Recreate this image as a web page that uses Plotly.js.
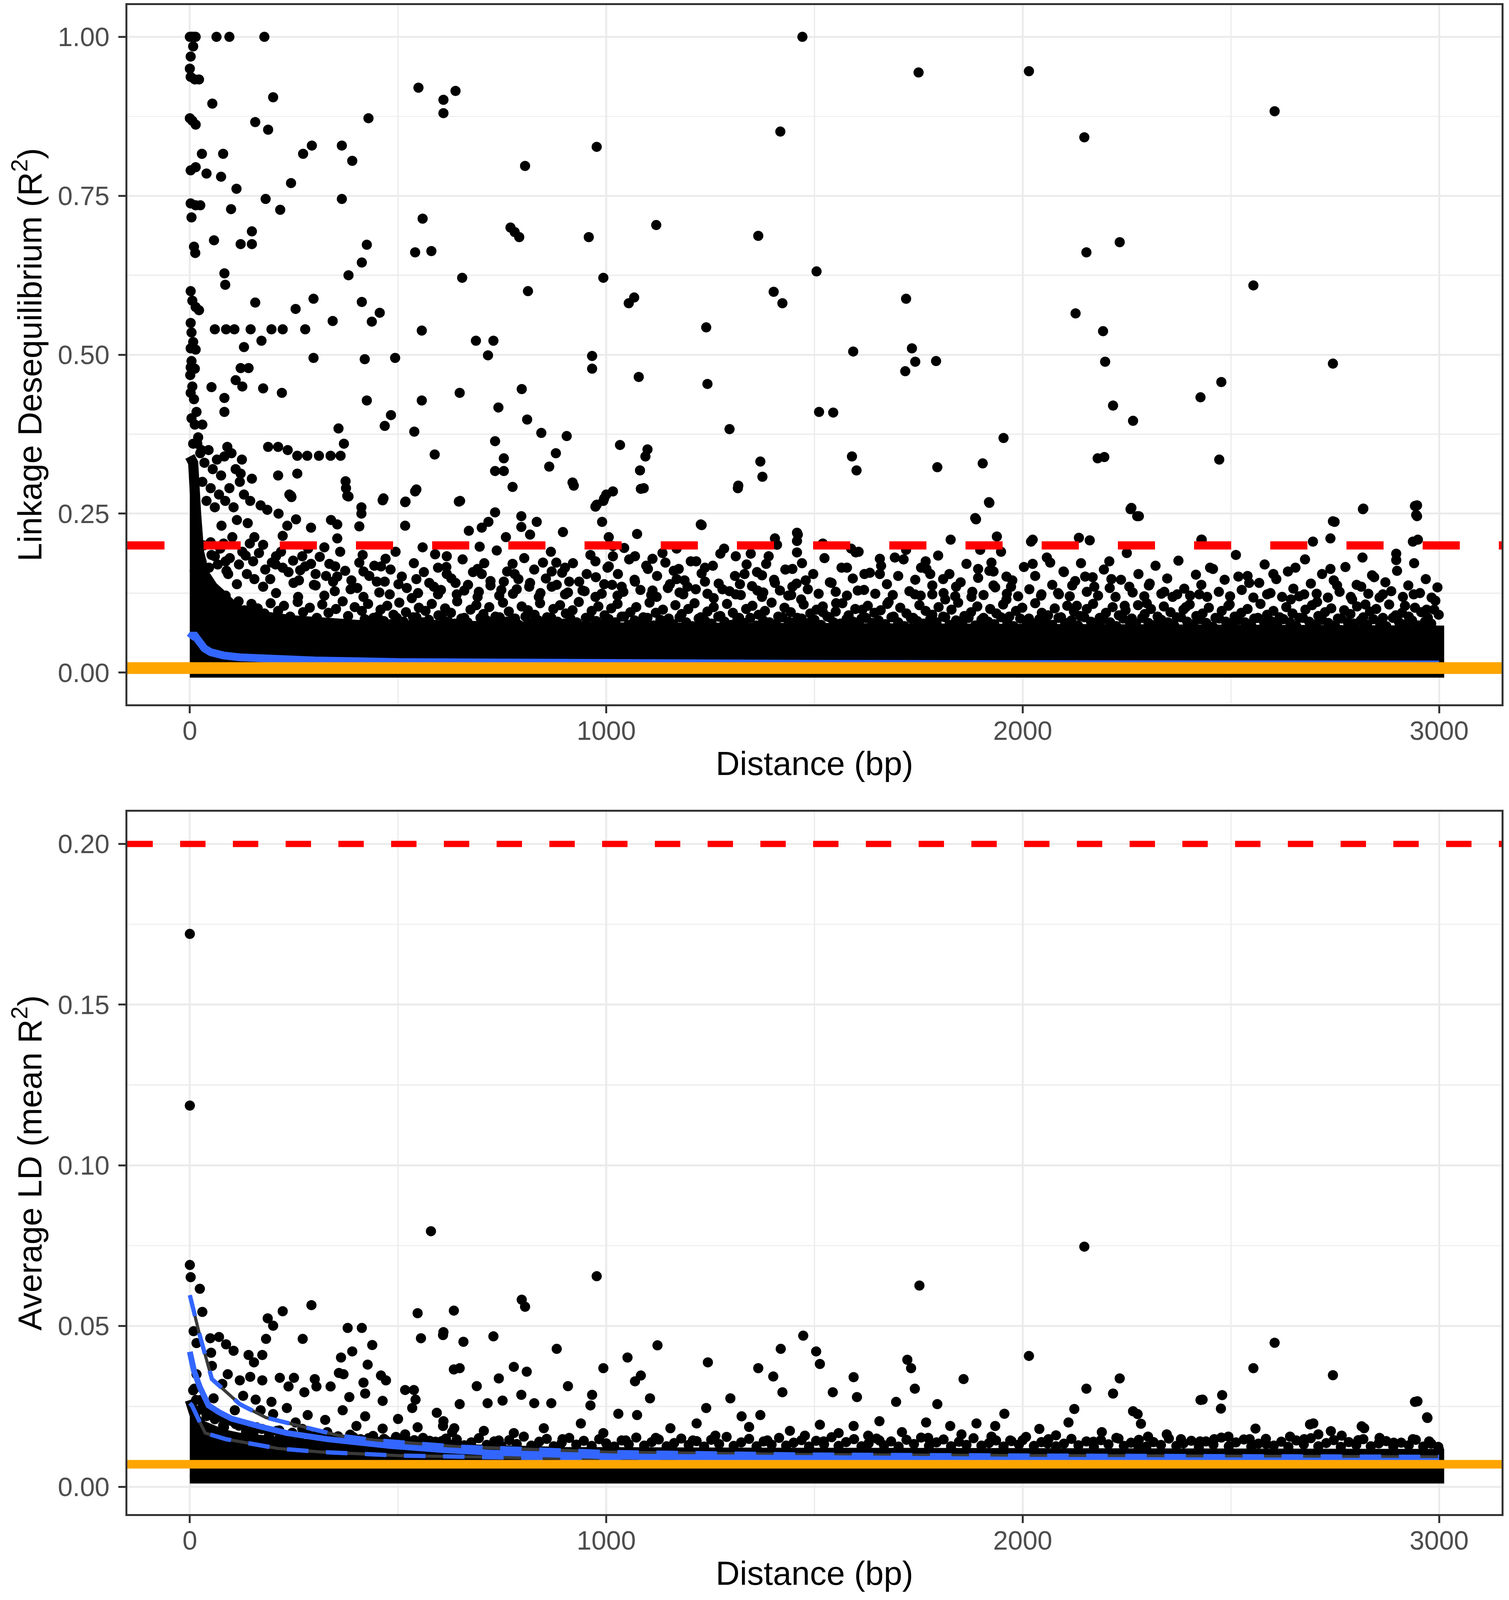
<!DOCTYPE html>
<html>
<head>
<meta charset="utf-8">
<script src="https://cdn.plot.ly/plotly-3.0.1.min.js"></script>
<style>html,body{margin:0;padding:0;background:#fff;overflow:hidden;}#chart{width:3862px;height:4096px;}</style>
</head>
<body>
<div id="chart"></div>
<script>
// ---------------- DATA ----------------
const xTickVals = [0, 1000, 2000, 3000];
const topYTicks = [0, 0.25, 0.5, 0.75, 1.0];
const botYTicks = [0, 0.05, 0.1, 0.15, 0.2];
const ldThreshold = 0.2;      // red dashed line
const ldBaseline = 0.007;     // orange line

// Top panel: saturated (solid black) part of the point cloud, upper edge
const topCoreX   = [0, 8, 15, 22, 35, 55, 80, 110, 160, 250, 400, 700, 1000, 1500, 2000, 2500, 3000];
const topCoreTop = [0.34, 0.33, 0.25, 0.19, 0.155, 0.135, 0.12, 0.1, 0.09, 0.082, 0.075, 0.072, 0.071, 0.07, 0.069, 0.068, 0.066];
const topCoreBaseX = [3000, 0];
const topCoreBaseY = [0, 0];

// Top panel: individual points above the saturated band
const topOutliers = [
 [0,1.0],[3,1.0],[6,1.0],[10,1.0],[14,1.0],[64,1.0],[95,1.0],[179,1.0],[1471,1.0],
 [8,0.985],[2,0.969],[0,0.95],[2,0.937],[12,0.933],[22,0.933],[54,0.895],[200,0.905],
 [0,0.872],[6,0.868],[14,0.862],[157,0.866],[188,0.854],[429,0.872],[549,0.92],[609,0.901],[609,0.88],[638,0.915],
 [272,0.816],[293,0.829],[365,0.829],[390,0.805],[29,0.816],[80,0.816],
 [2,0.79],[14,0.795],[40,0.785],[75,0.78],[112,0.761],[243,0.77],[182,0.745],[217,0.728],[365,0.745],[99,0.729],
 [2,0.738],[14,0.735],[25,0.735],[4,0.716],[58,0.68],[122,0.674],[149,0.674],[149,0.694],[10,0.67],[13,0.66],
 [425,0.673],[413,0.645],[559,0.714],[541,0.661],[580,0.663],[654,0.621],[381,0.625],[83,0.628],[85,0.61],
 [2,0.60],[6,0.585],[14,0.575],[22,0.57],[157,0.582],[297,0.588],[254,0.572],[413,0.583],[456,0.566],[437,0.552],[343,0.553],[557,0.538],
 [60,0.54],[87,0.54],[107,0.54],[146,0.54],[196,0.54],[223,0.54],[277,0.54],[172,0.522],[130,0.512],
 [2,0.55],[4,0.535],[8,0.52],[2,0.51],[14,0.508],[297,0.495],[420,0.493],[493,0.495],[687,0.522],[729,0.522],[716,0.499],
 [4,0.49],[2,0.48],[12,0.478],[1,0.468],[141,0.479],[122,0.479],[110,0.46],[126,0.45],[52,0.449],[176,0.447],[221,0.44],
 [425,0.428],[557,0.428],[648,0.44],[741,0.417],[483,0.405],[468,0.388],
 [83,0.432],[83,0.41],[6,0.45],[2,0.44],[10,0.43],[16,0.41],[4,0.40],[12,0.39],[30,0.39],[20,0.37],[8,0.36],[28,0.35],
 [357,0.384],[539,0.379],[370,0.36],[588,0.343],[733,0.364],[754,0.337],[733,0.317],[754,0.317],
 [188,0.355],[212,0.355],[235,0.35],[258,0.341],[282,0.341],[310,0.341],[338,0.341],[362,0.341],[83,0.34],[90,0.355],
 [258,0.313],[212,0.31],[122,0.313],[149,0.305],[374,0.301],[378,0.278],[463,0.271],[518,0.269],[646,0.269],[243,0.278],[541,0.285],
 [18,0.36],[25,0.345],[35,0.33],[45,0.35],[55,0.32],[65,0.335],[75,0.31],[100,0.345],[110,0.32],[125,0.335],
 [30,0.3],[50,0.29],[70,0.28],[95,0.29],[120,0.3],[40,0.27],[60,0.26],[85,0.27],[105,0.26],[130,0.28],[145,0.27],
 [770,0.70],[780,0.693],[791,0.685],[805,0.797],[812,0.60],[797,0.446],[810,0.398],[844,0.377],[879,0.345],[905,0.372],
 [863,0.324],[919,0.299],[958,0.685],[966,0.498],[966,0.478],[977,0.827],[993,0.621],[977,0.264],[993,0.27],[1000,0.28],
 [1033,0.358],[1054,0.581],[1067,0.59],[1078,0.465],[1099,0.351],[1094,0.34],[1081,0.318],[1083,0.289],[1120,0.704],
 [1240,0.543],[1243,0.454],[1296,0.383],[1317,0.294],[1365,0.687],[1370,0.332],[1375,0.308],[1402,0.599],[1423,0.581],
 [1418,0.851],[1505,0.631],[1511,0.41],[1545,0.409],[1593,0.505],[1590,0.34],[1601,0.318],[1750,0.944],[1720,0.588],
 [1734,0.51],[1742,0.489],[1718,0.474],[1792,0.49],[1795,0.323],[1904,0.329],[1920,0.267],[1954,0.369],[2015,0.946],
 [2148,0.842],[2127,0.565],[2153,0.661],[2193,0.537],[2198,0.489],[2217,0.42],[2233,0.677],[2180,0.337],[2196,0.339],
 [2265,0.396],[2259,0.257],[2275,0.246],[2427,0.433],[2477,0.457],[2472,0.335],[2554,0.609],[2605,0.883],[2745,0.486],
 [2942,0.262],[2945,0.248]
];

// Top panel: points between ~0.11 and ~0.3 (moderately dense zone)
const topMid = [
 [239,0.28],[244,0.276],[375,0.29],[381,0.277],[465,0.274],[544,0.288],[517,0.268],[649,0.27],[775,0.292],[922,0.294],
 [1016,0.285],[995,0.274],[974,0.261],[1090,0.29],[1316,0.29],[412,0.26],[412,0.25],[407,0.23],[170,0.263],[186,0.256],
 [213,0.25],[113,0.24],[139,0.235],[76,0.231],[234,0.231],[255,0.241],[291,0.228],[339,0.24],[354,0.233],[517,0.231],
 [733,0.252],[717,0.237],[701,0.228],[670,0.223],[796,0.246],[833,0.237],[796,0.229],[896,0.221],[990,0.237],[1227,0.233],
 [1074,0.218],[1458,0.22],[1405,0.211],[1006,0.213],[817,0.217],[759,0.213],[354,0.211],[155,0.213],[223,0.215],[81,0.203],
 [102,0.213],[50,0.205],[144,0.203],[176,0.201],[323,0.197],[559,0.197],[696,0.198],[1016,0.199],[1043,0.196],[1169,0.195],
 [1410,0.201],[1458,0.207],[1229,0.232],[1460,0.217],
 [60,0.183],[86,0.175],[134,0.184],[207,0.183],[197,0.173],[223,0.165],[270,0.183],[291,0.171],[265,0.161],[302,0.155],
 [349,0.167],[407,0.173],[470,0.179],[459,0.167],[417,0.159],[354,0.151],[617,0.183],[596,0.165],[617,0.155],[691,0.163],
 [701,0.155],[775,0.171],[780,0.155],[848,0.173],[880,0.173],[901,0.165],[869,0.159],[974,0.175],[1006,0.167],[953,0.155],
 [1016,0.183],[1069,0.183],[1111,0.179],[1142,0.173],[1100,0.163],[1174,0.163],[1216,0.175],[1237,0.165],[1274,0.187],
 [1311,0.183],[1347,0.187],[1384,0.171],[1447,0.163],[1458,0.189],[1374,0.153],[1332,0.155],[1169,0.147],
 [18,0.147],[92,0.155],[155,0.147],[113,0.139],[176,0.135],[249,0.141],[302,0.137],[344,0.143],[386,0.131],[449,0.143],
 [501,0.139],[544,0.147],[586,0.135],[638,0.141],[659,0.129],[722,0.137],[754,0.143],[785,0.131],[817,0.141],[869,0.135],
 [911,0.143],[943,0.129],[995,0.139],[1037,0.135],[1069,0.143],[1111,0.129],[1153,0.139],[1195,0.135],[1237,0.143],
 [1279,0.131],[1321,0.139],[1363,0.129],[1405,0.141],[1447,0.135],[1479,0.145],[207,0.125],[260,0.119],[323,0.121],
 [417,0.119],[480,0.123],[533,0.117],[596,0.123],[691,0.119],[743,0.121],[838,0.119],[901,0.123],[974,0.119],[1027,0.121],
 [1121,0.119],[1185,0.123],[1258,0.117],[1311,0.123],[1374,0.119],[1437,0.121],[1468,0.115],
 [1919,0.268],[1886,0.243],[1827,0.209],[1938,0.214],[1898,0.193],[2024,0.209],[2135,0.212],[2161,0.208],[2261,0.259],
 [2279,0.246],[2429,0.209],[2697,0.206],[2739,0.211],[2749,0.237],[2818,0.258],[2947,0.263],[2947,0.246],[2949,0.209],
 [1520,0.203],[1588,0.195],[1599,0.189],[1720,0.193],[1578,0.165],[1541,0.141],[1620,0.155],[1657,0.179],[1657,0.155],
 [1693,0.181],[1767,0.175],[1756,0.165],[1778,0.155],[1809,0.147],[1925,0.173],[1893,0.163],[1930,0.159],[1961,0.151],
 [1840,0.135],[1930,0.137],[1972,0.135],[2024,0.171],[2066,0.173],[2098,0.159],[2045,0.123],[2119,0.137],[2150,0.151],
 [2172,0.135],[2208,0.175],[2213,0.147],[2256,0.135],[2303,0.137],[2340,0.127],[2371,0.123],[2424,0.123],[2450,0.165],
 [2518,0.151],[2544,0.141],[2602,0.155],[2587,0.123],[2655,0.165],[2676,0.123],[2739,0.163],[2755,0.137],[2813,0.135],
 [2839,0.153],[2897,0.177],[2865,0.123],[2939,0.123],[2991,0.113],[2791,0.115],[1604,0.129],[1741,0.123],[1783,0.123],
 [1678,0.111],[1814,0.115],[1877,0.119],[1961,0.115],[2087,0.123],[2130,0.105],[2245,0.105],[2298,0.109],[2392,0.103],
 [2497,0.107],[2644,0.115],[2707,0.111],[2823,0.107],[2918,0.105],[2970,0.099],[1552,0.109],[1615,0.099],[1520,0.095],
 [1888,0.241],[2020,0.206],[2430,0.209],[2745,0.238],[2817,0.257],[2937,0.206],[2897,0.187]
];

// Top panel: further points in the 0.12 - 0.20 zone
const topMid2 = [
 [15,0.19],[28,0.175],[33,0.2],[46,0.165],[52,0.185],[67,0.17],[73,0.195],[88,0.16],[96,0.18],[118,0.17],[126,0.19],[137,0.155],
 [152,0.175],[166,0.188],[181,0.162],[193,0.147],[206,0.17],[219,0.19],[237,0.158],[248,0.176],[262,0.145],[277,0.167],[284,0.195],
 [298,0.138],[312,0.182],[327,0.152],[335,0.171],[348,0.128],[361,0.19],[373,0.16],[388,0.145],[402,0.133],[415,0.185],[431,0.152],
 [443,0.168],[455,0.126],[468,0.143],[482,0.162],[494,0.19],[509,0.151],[521,0.133],[538,0.172],[548,0.125],[562,0.158],[575,0.141],
 [589,0.186],[603,0.13],[616,0.166],[628,0.148],[641,0.123],[655,0.178],[668,0.138],[680,0.158],[694,0.127],[707,0.172],[722,0.144],
 [737,0.192],[748,0.13],[762,0.159],[776,0.124],[789,0.147],[803,0.18],[815,0.135],[827,0.162],[842,0.125],[855,0.148],[867,0.19],
 [881,0.138],[894,0.157],[908,0.126],[920,0.172],[935,0.143],[948,0.128],[962,0.185],[975,0.15],[989,0.124],[1003,0.165],[1014,0.138],
 [1028,0.155],[1041,0.127],[1055,0.178],[1068,0.146],[1082,0.13],[1096,0.168],[1108,0.122],[1122,0.152],[1135,0.188],[1148,0.133],
 [1162,0.16],[1176,0.126],[1188,0.145],[1203,0.175],[1215,0.131],[1229,0.156],[1243,0.124],[1256,0.168],[1270,0.14],[1283,0.195],
 [1296,0.128],[1309,0.152],[1323,0.122],[1337,0.17],[1350,0.136],[1362,0.158],[1377,0.126],[1390,0.183],[1403,0.146],[1417,0.129],
 [1430,0.162],[1444,0.122],[1457,0.14],[1470,0.172],[1484,0.131],[1497,0.155],[1510,0.124],[1524,0.18],[1537,0.142],[1551,0.127],
 [1565,0.165],[1578,0.121],[1592,0.148],[1606,0.19],[1619,0.13],[1633,0.157],[1646,0.124],[1660,0.168],[1674,0.139],[1688,0.122],
 [1701,0.152],[1714,0.178],[1728,0.128],[1742,0.146],[1755,0.121],[1769,0.163],[1783,0.137],[1797,0.184],[1810,0.125],[1824,0.155],
 [1838,0.12],[1851,0.142],[1865,0.171],[1879,0.127],[1893,0.149],[1906,0.122],[1920,0.16],[1934,0.134],[1948,0.19],[1962,0.124],
 [1975,0.145],[1989,0.12],[2003,0.166],[2016,0.131],[2030,0.152],[2044,0.121],[2058,0.181],[2071,0.138],[2085,0.125],[2099,0.158],
 [2113,0.12],[2126,0.144],[2140,0.172],[2154,0.127],[2168,0.15],[2181,0.121],[2195,0.162],[2209,0.133],[2223,0.119],[2236,0.146],
 [2250,0.188],[2264,0.126],[2278,0.155],[2292,0.12],[2305,0.14],[2319,0.168],[2333,0.124],[2347,0.148],[2360,0.119],[2374,0.176],
 [2388,0.132],[2402,0.121],[2416,0.154],[2429,0.138],[2443,0.119],[2457,0.163],[2471,0.127],[2485,0.146],[2498,0.12],[2512,0.185],
 [2526,0.13],[2540,0.152],[2554,0.118],[2568,0.141],[2581,0.17],[2595,0.125],[2609,0.147],[2623,0.119],[2637,0.159],[2650,0.132],
 [2664,0.12],[2678,0.178],[2692,0.14],[2706,0.124],[2719,0.155],[2733,0.118],[2747,0.145],[2761,0.127],[2775,0.166],[2788,0.119],
 [2802,0.138],[2816,0.181],[2830,0.124],[2844,0.15],[2857,0.118],[2871,0.142],[2885,0.128],[2899,0.16],[2913,0.119],[2926,0.137],
 [2940,0.172],[2954,0.125],[2968,0.147],[2982,0.118],[2996,0.134]
];

// Top panel: ragged upper fringe of the saturated band (upper row)
const topFringeX = [12,27,41,58,70,86,99,117,131,148,163,179,194,212,226,241,259,272,288,305,318,333,351,367,380,396,413,428,441,458,
 474,489,503,519,536,550,566,581,597,613,627,642,659,674,688,705,719,734,752,766,781,797,812,828,841,858,873,889,903,919,
 934,951,965,981,996,1012,1027,1043,1058,1072,1089,1104,1119,1136,1150,1166,1181,1197,1212,1227,1243,1258,1274,1290,1304,1319,1336,1351,1366,1381,
 1397,1413,1428,1443,1459,1474,1490,1505,1520,1536,1551,1567,1582,1598,1613,1628,1644,1659,1675,1690,1706,1721,1737,1752,1767,1783,1798,1814,1829,1845,
 1860,1876,1891,1906,1922,1937,1953,1968,1984,1999,2015,2030,2046,2061,2077,2092,2107,2123,2138,2154,2169,2185,2200,2216,2231,2247,2262,2277,2293,2308,
 2324,2339,2355,2370,2386,2401,2417,2432,2447,2463,2478,2494,2509,2525,2540,2556,2571,2587,2602,2617,2633,2648,2664,2679,2695,2710,2726,2741,2757,2772,
 2787,2803,2818,2834,2849,2865,2880,2896,2911,2927,2942,2957,2973,2988,2999];
const topFringeY = [0.16,0.13,0.125,0.118,0.11,0.121,0.104,0.112,0.098,0.108,0.101,0.093,0.109,0.097,0.105,0.088,0.111,0.095,0.102,0.086,
 0.107,0.094,0.1,0.112,0.089,0.103,0.097,0.108,0.086,0.099,0.105,0.091,0.11,0.095,0.087,0.102,0.097,0.108,0.09,0.101,
 0.094,0.112,0.086,0.099,0.106,0.092,0.103,0.088,0.11,0.096,0.085,0.104,0.098,0.091,0.109,0.087,0.1,0.106,0.093,0.098,
 0.111,0.086,0.097,0.104,0.09,0.101,0.108,0.088,0.095,0.103,0.087,0.11,0.094,0.099,0.085,0.106,0.092,0.1,0.109,0.087,
 0.096,0.103,0.089,0.108,0.094,0.086,0.1,0.105,0.091,0.097,0.11,0.088,0.102,0.095,0.086,0.107,0.093,0.099,0.104,0.087,
 0.096,0.109,0.09,0.1,0.085,0.105,0.094,0.098,0.108,0.088,0.102,0.093,0.086,0.106,0.097,0.091,0.103,0.087,0.099,0.11,
 0.089,0.095,0.104,0.086,0.1,0.093,0.107,0.088,0.097,0.102,0.085,0.109,0.094,0.09,0.101,0.087,0.105,0.096,0.089,0.1,
 0.108,0.086,0.094,0.103,0.09,0.098,0.085,0.106,0.092,0.1,0.088,0.104,0.095,0.087,0.099,0.107,0.089,0.093,0.102,0.086,
 0.097,0.105,0.088,0.094,0.1,0.085,0.108,0.091,0.097,0.087,0.103,0.093,0.086,0.099,0.106,0.089,0.095,0.101,0.085,0.098,
 0.092,0.104,0.087,0.096,0.1,0.086,0.107,0.09,0.094,0.088,0.102,0.095,0.086,0.099,0.091];

// Top panel: lower fringe row, just above the solid band
const topFringe2X = [420,436,451,466,482,497,513,528,544,559,574,590,605,621,636,652,667,682,698,713,729,744,760,775,790,806,821,837,852,868,
 883,898,914,929,945,960,976,991,1006,1022,1037,1053,1068,1084,1099,1114,1130,1145,1161,1176,1192,1207,1222,1238,1253,1269,1284,1300,1315,1330,
 1346,1361,1377,1392,1408,1423,1438,1454,1469,1485,1500,1516,1531,1546,1562,1577,1593,1608,1624,1639,1654,1670,1685,1701,1716,1732,1747,1762,1778,1793,
 1809,1824,1840,1855,1870,1886,1901,1917,1932,1948,1963,1978,1994,2009,2025,2040,2056,2071,2086,2102,2117,2133,2148,2164,2179,2194,2210,2225,2241,2256,
 2272,2287,2302,2318,2333,2349,2364,2380,2395,2410,2426,2441,2457,2472,2488,2503,2518,2534,2549,2565,2580,2596,2611,2626,2642,2657,2673,2688,2704,2719,
 2734,2750,2765,2781,2796,2812,2827,2842,2858,2873,2889,2904,2920,2935,2950,2966,2981,2996];
const topFringe2Y = [0.084,0.078,0.088,0.081,0.076,0.086,0.08,0.074,0.087,0.079,0.083,0.075,0.088,0.08,0.077,0.085,0.079,0.073,0.086,0.082,
 0.076,0.087,0.08,0.084,0.075,0.088,0.078,0.082,0.074,0.086,0.08,0.077,0.085,0.079,0.073,0.087,0.081,0.076,0.084,0.079,
 0.088,0.075,0.082,0.078,0.086,0.074,0.083,0.08,0.076,0.087,0.079,0.073,0.085,0.081,0.077,0.088,0.08,0.075,0.084,0.078,
 0.086,0.074,0.082,0.079,0.076,0.087,0.08,0.073,0.085,0.078,0.083,0.075,0.088,0.079,0.077,0.084,0.08,0.074,0.086,0.078,
 0.082,0.076,0.087,0.079,0.073,0.085,0.081,0.077,0.084,0.079,0.088,0.075,0.082,0.078,0.086,0.074,0.083,0.08,0.076,0.087,
 0.079,0.073,0.085,0.08,0.077,0.084,0.079,0.075,0.086,0.078,0.082,0.074,0.087,0.08,0.076,0.084,0.079,0.073,0.085,0.081,
 0.077,0.086,0.078,0.075,0.083,0.079,0.074,0.087,0.08,0.076,0.084,0.078,0.072,0.085,0.08,0.077,0.083,0.079,0.074,0.086,
 0.078,0.081,0.075,0.084,0.079,0.073,0.086,0.08,0.076,0.083,0.078,0.074,0.085,0.079,0.077,0.082,0.075,0.084,0.078,0.073,
 0.086,0.079,0.076,0.082,0.074,0.08,0.077];

// Top panel smooth fit (blue)
const topFitX = [0, 5, 12, 20, 35, 50, 80, 120, 200, 300, 500, 700, 1000, 1500, 2000, 2500, 3000];
const topFitY = [0.054, 0.058, 0.058, 0.05, 0.038, 0.032, 0.027, 0.024, 0.021, 0.019, 0.0165, 0.0155, 0.0145, 0.0138, 0.0133, 0.013, 0.0128];

// Bottom panel: saturated part of the point cloud
const botCoreX   = [0, 6, 15, 30, 50, 80, 120, 180, 260, 360, 480, 650, 900, 1300, 1800, 2400, 3000];
const botCoreTop = [0.027, 0.024, 0.021, 0.019, 0.0178, 0.0163, 0.0152, 0.0142, 0.0134, 0.0128, 0.0122, 0.0115, 0.0108, 0.0106, 0.0104, 0.0103, 0.0102];
const botCoreBaseX = [3000, 0];
const botCoreBaseY = [0.0026, 0.0026];

// Bottom panel: individual mean-LD points
const botPoints = [
 [0,0.172],[0,0.1186],[0,0.069],[2,0.0652],[24,0.0616],[30,0.0544],[9,0.0484],[16,0.0447],[49,0.0462],[70,0.0466],
 [87,0.0443],[105,0.0423],[51,0.0417],[53,0.0376],[16,0.035],[11,0.0305],[91,0.035],[141,0.041],[154,0.0387],[174,0.041],
 [145,0.0342],[174,0.0331],[120,0.0331],[216,0.0339],[250,0.0339],[237,0.0312],[275,0.0294],[300,0.0335],[304,0.0312],
 [338,0.0312],[358,0.0354],[417,0.0324],[421,0.029],[383,0.0279],[459,0.0346],[471,0.0331],[463,0.0267],[517,0.0301],
 [538,0.0301],[542,0.0271],[534,0.0245],[593,0.023],[609,0.0204],[547,0.0185],[630,0.017],[634,0.0365],[500,0.0211],
 [421,0.0219],[367,0.0238],[325,0.0208],[283,0.0223],[233,0.0245],[196,0.0264],[158,0.0271],[128,0.0283],[78,0.032],
 [57,0.0275],[32,0.0256],[108,0.0238],[170,0.0238],[200,0.0226],[254,0.02],[400,0.0189],[463,0.0181],[517,0.0163],
 [141,0.0178],[82,0.0185],[216,0.0163],[325,0.0163],
 [187,0.0524],[200,0.0501],[223,0.0546],[292,0.0565],[271,0.046],[183,0.046],[379,0.0494],[413,0.0494],[438,0.0441],
 [390,0.0421],[363,0.0402],[427,0.038],[369,0.035],[547,0.054],[555,0.0462],[609,0.0481],[634,0.0548],
 [579,0.0795],[977,0.0655],[1752,0.0626],[2148,0.0747],[2605,0.0448],[2015,0.0407],[2745,0.0347],[2554,0.0369],
 [2942,0.0264],[2971,0.0216],[797,0.0582],[805,0.056],
 [608,0.0472],[657,0.0451],[729,0.0468],[881,0.0429],[1123,0.044],[1051,0.0402],[1473,0.047],[1419,0.0429],[1504,0.0421],
 [1513,0.0382],[1244,0.0387],[648,0.0369],[778,0.0373],[809,0.0358],[742,0.0337],[689,0.0313],[796,0.0286],[993,0.0369],
 [1083,0.0346],[1069,0.0328],[908,0.0313],[966,0.0286],[1105,0.0275],[1365,0.0369],[1401,0.0343],[1423,0.0294],
 [1298,0.0275],[1594,0.0341],[1544,0.0294],[1602,0.0279],[1723,0.0395],[1732,0.0369],[1741,0.0305],[1696,0.0264],
 [1795,0.0257],[1858,0.0335],[1956,0.0227],[648,0.0257],[715,0.026],[751,0.0268],[827,0.026],[868,0.026],[962,0.0253],
 [1029,0.0227],[1074,0.0223],[1240,0.0245],[1325,0.0219],[1370,0.0223],[1513,0.0193],[1594,0.0189],[1656,0.0204],
 [1768,0.02],[1826,0.0189],[1889,0.0197],[1934,0.0189],[608,0.0189],[635,0.0182],[706,0.0174],[778,0.0167],[850,0.0182],
 [939,0.0197],[993,0.0167],[1154,0.0182],[1217,0.0197],[1262,0.0159],[1343,0.0186],[1441,0.0174],[1477,0.0159],
 [1558,0.0167],[1629,0.0159],[1710,0.017],[1773,0.0152],[1853,0.0163],[1925,0.0156],[742,0.0144],[895,0.0148],
 [1047,0.0144],[1119,0.0152],[1387,0.0144],[1656,0.0144],[1970,0.0144],[1208,0.0144],[1522,0.0141],
 [2432,0.0271],[2479,0.0285],[2476,0.0243],[2948,0.0266],[2972,0.0214],[2698,0.0197],[2820,0.0182],[2559,0.0181],
 [2740,0.0173],[2276,0.0226],[2284,0.0196],[2346,0.0163],[2380,0.0148],[2426,0.0141],[2460,0.0148],[2494,0.0156],
 [2545,0.0148],[2585,0.0133],[2642,0.0156],[2676,0.0148],[2710,0.0163],[2766,0.0159],[2806,0.0145],[2857,0.0152],
 [2891,0.0133],[2937,0.0148],[2976,0.0141],[2999,0.0118],[2301,0.0156],[2278,0.0126],
 [2124,0.0242],[2153,0.0305],[2217,0.029],[2233,0.0337],[2265,0.0235],[2040,0.018],[2080,0.016],[2110,0.02],[2190,0.017],
 [2230,0.015],[2000,0.0145],[2060,0.0135],[2170,0.014],[2427,0.027],[2690,0.0194],[2814,0.0188],[2891,0.0137],
 [15,0.027],[25,0.024],[40,0.022],[60,0.021],[80,0.019],[110,0.0195],[135,0.017],[160,0.0185],[190,0.016],[215,0.0175],
 [245,0.0165],[270,0.018],[300,0.0158],[330,0.017],[355,0.015],[385,0.0162],[410,0.0148],[440,0.0158],[470,0.0145],
 [495,0.0155],[525,0.0142],[560,0.0152],[590,0.014],[615,0.015]
];

// Bottom panel: ragged fringe just above the solid band
const botFringeX = [8,26,44,63,81,99,118,136,154,173,191,209,228,246,264,283,301,319,338,356,374,393,411,429,448,466,484,503,521,539,558,576,594,
 605,622,641,659,676,694,713,731,748,767,785,802,820,839,857,874,893,911,928,946,965,983,1000,1019,1037,1054,1072,1091,1109,1126,
 1145,1163,1180,1198,1217,1235,1252,1271,1289,1306,1324,1343,1361,1378,1397,1415,1432,1450,1469,1487,1504,1523,1541,1558,1576,1595,
 1613,1630,1649,1667,1684,1702,1721,1739,1756,1775,1793,1810,1828,1847,1865,1882,1901,1919,1936,1954,1973,1991,2008,2027,2045,2062,
 2080,2099,2117,2134,2153,2171,2188,2206,2225,2243,2260,2279,2297,2314,2332,2351,2369,2386,2405,2423,2440,2458,2477,2495,2512,2531,
 2549,2566,2584,2603,2621,2638,2657,2675,2692,2710,2729,2747,2764,2783,2801,2818,2836,2855,2873,2890,2909,2927,2944,2962,2981,2998];
const botFringeY = [0.03,0.027,0.024,0.023,0.021,0.0205,0.019,0.0185,0.0172,0.018,0.0166,0.0174,0.016,0.0168,0.0157,0.0164,0.0152,0.016,0.0149,0.0157,
 0.0146,0.0154,0.0143,0.0151,0.0141,0.0149,0.0139,0.0147,0.0137,0.0145,0.0136,0.0143,0.0134,
 0.0142,0.0133,0.0147,0.0129,0.0138,0.0151,0.013,0.0141,0.0127,0.0145,0.0133,0.0156,0.0128,0.014,0.0149,0.0126,0.0137,0.0152,0.0131,0.0143,
 0.0127,0.0148,0.0135,0.0125,0.0144,0.0132,0.0153,0.0128,0.0139,0.0147,0.0126,0.0136,0.015,0.013,0.0142,0.0125,0.0146,0.0133,0.0155,
 0.0127,0.0138,0.0149,0.0126,0.0141,0.0131,0.0152,0.0128,0.0137,0.0145,0.0125,0.0143,0.0132,0.0154,0.0127,0.0139,0.0148,0.0126,0.0135,
 0.015,0.0129,0.0141,0.0125,0.0146,0.0133,0.0153,0.0127,0.0138,0.0147,0.0126,0.014,0.013,0.0151,0.0128,0.0136,0.0144,0.0125,0.0142,0.0131,
 0.0155,0.0127,0.0139,0.0148,0.0126,0.0134,0.0149,0.0129,0.0141,0.0124,0.0145,0.0132,0.0152,0.0127,0.0137,0.0146,0.0125,0.0139,0.013,0.015,
 0.0127,0.0135,0.0143,0.0124,0.0141,0.0131,0.0153,0.0126,0.0138,0.0147,0.0125,0.0134,0.0149,0.0128,0.014,0.0124,0.0144,0.0132,0.0151,0.0126,
 0.0136,0.0145,0.0124,0.0139,0.013,0.0148,0.0126,0.0135,0.0142,0.0125,0.0137,0.0129,0.0146,0.0125,0.0134,0.0124];

// Bottom panel fitted decay curve and its bounds
const botFitX = [0, 10, 24, 45, 70, 100, 170, 233, 330, 400, 480, 610, 720, 1030, 1500, 2000, 2500, 3000];
const botFitY = [0.042, 0.036, 0.031, 0.0253, 0.0232, 0.0212, 0.0187, 0.0167, 0.0148, 0.0137, 0.0127, 0.0114, 0.0106, 0.0094, 0.0088, 0.0084, 0.0082, 0.008];
const botUpperX = [0, 24, 53, 120, 183, 274, 359, 442, 640, 1000, 1500, 2000, 2500, 3000];
const botUpperY = [0.0596, 0.047, 0.0335, 0.0257, 0.0215, 0.0186, 0.0159, 0.0145, 0.0125, 0.0108, 0.01, 0.0097, 0.0095, 0.0093];
const botLowerX = [0, 5, 24, 37, 87, 212, 316, 500, 800, 1200, 1800, 2400, 3000];
const botLowerY = [0.026, 0.0253, 0.0201, 0.0167, 0.0148, 0.0119, 0.0108, 0.0097, 0.009, 0.0084, 0.008, 0.0078, 0.0077];

// ---------------- BUILD ----------------
const W = 3862, H = 4096;
const xs = a => a.map(p => p[0]);
const ys = a => a.map(p => p[1]);
const PT = 26;
const mk = {size: PT, color: '#000000'};
const pts = (x, y, xa, ya) => ({x: x, y: y, xaxis: xa, yaxis: ya, type: 'scatter', mode: 'markers', marker: mk});

const traces = [
  {x: topCoreX.concat(topCoreBaseX), y: topCoreTop.concat(topCoreBaseY), xaxis:'x', yaxis:'y', type:'scatter', mode:'lines',
   fill:'toself', fillcolor:'#000000', line:{color:'#000000', width:PT}},
  pts(topFringe2X, topFringe2Y, 'x', 'y'),
  pts(topFringeX, topFringeY, 'x', 'y'),
  pts(xs(topOutliers), ys(topOutliers), 'x', 'y'),
  pts(xs(topMid), ys(topMid), 'x', 'y'),
  pts(xs(topMid2), ys(topMid2), 'x', 'y'),
  {x: topFitX, y: topFitY, xaxis:'x', yaxis:'y', type:'scatter', mode:'lines', line:{color:'#3366FF', width:20}},
  {x: botCoreX.concat(botCoreBaseX), y: botCoreTop.concat(botCoreBaseY), xaxis:'x2', yaxis:'y2', type:'scatter', mode:'lines',
   fill:'toself', fillcolor:'#000000', line:{color:'#000000', width:PT}},
  pts(botFringeX, botFringeY, 'x2', 'y2'),
  pts(xs(botPoints), ys(botPoints), 'x2', 'y2'),
  {x: botUpperX, y: botUpperY, xaxis:'x2', yaxis:'y2', type:'scatter', mode:'lines', line:{color:'#3a3a3a', width:8}},
  {x: botLowerX, y: botLowerY, xaxis:'x2', yaxis:'y2', type:'scatter', mode:'lines', line:{color:'#3a3a3a', width:8}},
  {x: botUpperX, y: botUpperY, xaxis:'x2', yaxis:'y2', type:'scatter', mode:'lines', line:{color:'#3366FF', width:11, dash:'55px,45px'}},
  {x: botLowerX, y: botLowerY, xaxis:'x2', yaxis:'y2', type:'scatter', mode:'lines', line:{color:'#3366FF', width:11, dash:'55px,45px'}},
  {x: botFitX, y: botFitY, xaxis:'x2', yaxis:'y2', type:'scatter', mode:'lines', line:{color:'#3366FF', width:15}}
];

const FONT = 'Liberation Sans, Arial, Helvetica, sans-serif';
const tickFont = {family: FONT, size: 68, color: '#4D4D4D'};
const titleFont = {family: FONT, size: 85, color: '#000000'};
const GRID = '#EBEBEB';

function xAxis(anchor) {
  return {
    anchor: anchor, domain: [0, 1], range: [-150, 3150],
    tickmode: 'array', tickvals: xTickVals, ticktext: xTickVals.map(String),
    ticks: 'outside', ticklen: 18, tickwidth: 5, tickcolor: '#333333', ticklabelstandoff: -14,
    showgrid: true, gridcolor: GRID, gridwidth: 5,
    minor: {dtick: 500, tick0: 0, showgrid: true, gridcolor: GRID, gridwidth: 2.5, ticks: ''},
    showline: true, mirror: true, linecolor: '#333333', linewidth: 5, zeroline: false,
    tickfont: tickFont,
    title: {text: 'Distance (bp)', font: titleFont, standoff: 19}
  };
}
function yAxis(anchor, domain, range, ticks, minorStep, titleText) {
  return {
    anchor: anchor, domain: domain, range: range,
    tickmode: 'array', tickvals: ticks, ticktext: ticks.map(v => v.toFixed(2)),
    ticks: 'outside', ticklen: 18, tickwidth: 5, tickcolor: '#333333', ticklabelstandoff: 9,
    showgrid: true, gridcolor: GRID, gridwidth: 5,
    minor: {dtick: minorStep, tick0: 0, showgrid: true, gridcolor: GRID, gridwidth: 2.5, ticks: ''},
    showline: true, mirror: true, linecolor: '#333333', linewidth: 5, zeroline: false,
    tickfont: tickFont,
    title: {text: titleText, font: titleFont, standoff: 15}
  };
}

const layout = {
  width: W, height: H,
  margin: {l: 326, r: 19, t: 13, b: 220},
  paper_bgcolor: '#FFFFFF', plot_bgcolor: '#FFFFFF',
  showlegend: false,
  xaxis: xAxis('y'),
  yaxis: yAxis('x', [0.5366, 1], [-0.05, 1.05], topYTicks, 0.125, 'Linkage Desequilibrium (R<sup>2</sup>)'),
  xaxis2: xAxis('y2'),
  yaxis2: yAxis('x2', [0, 0.4654], [-0.0085, 0.21], botYTicks, 0.025, 'Average LD (mean R<sup>2</sup>)'),
  shapes: [
    {type:'line', xref:'x domain', x0:0, x1:1, yref:'y', y0:ldThreshold, y1:ldThreshold, line:{color:'#FF0000', width:21, dash:'95px,100px'}},
    {type:'line', xref:'x domain', x0:0, x1:1, yref:'y', y0:ldBaseline, y1:ldBaseline, line:{color:'#FFA500', width:30}},
    {type:'line', xref:'x2 domain', x0:0, x1:1, yref:'y2', y0:ldThreshold, y1:ldThreshold, line:{color:'#FF0000', width:16, dash:'65px,70px'}},
    {type:'line', xref:'x2 domain', x0:0, x1:1, yref:'y2', y0:ldBaseline, y1:ldBaseline, line:{color:'#FFA500', width:22}}
  ]
};

Plotly.newPlot('chart', traces, layout, {staticPlot: true, displayModeBar: false});
</script>
</body>
</html>
